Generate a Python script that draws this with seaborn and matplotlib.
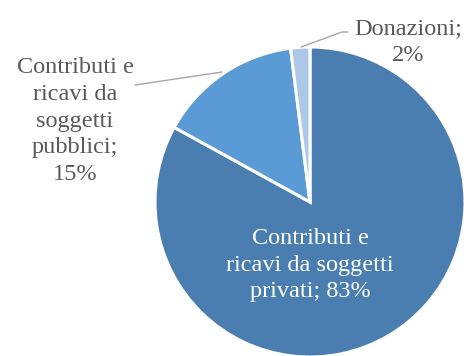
import matplotlib
matplotlib.use("Agg")
import matplotlib.pyplot as plt
import seaborn as sns

categories = ["Contributi e\nricavi da soggetti\nprivati", "Contributi e\nricavi da\nsoggetti\npubblici", "Donazioni"]
values = [83, 15, 2]
colors = ["#4A7EB0", "#5B9BD5", "#ADC8E6"]

sns.set_style("white")
plt.rcParams['font.family'] = ['Liberation Serif', 'DejaVu Serif']

fig = plt.figure(figsize=(4.71, 3.56), dpi=100)
ax = fig.add_axes([0, 0, 1, 1])

cx, cy, r = 310, 154, 155
wedges, _ = ax.pie(values, colors=colors, startangle=90, counterclock=False,
                   center=(cx, cy), radius=r,
                   wedgeprops=dict(edgecolor='white', linewidth=2.2))
ax.set_xlim(0, 471)
ax.set_ylim(0, 356)
ax.set_aspect('equal')
ax.axis('off')

labels = [f"{c}; {v}%" if i == 0 else f"{c};\n{v}%" for i, (c, v) in enumerate(zip(categories, values))]
ax.text(310, 91, labels[0], color='white', fontsize=17.5,
        ha='center', va='center', linespacing=1.35)
ax.text(75, 235, labels[1], color='#595959', fontsize=17.5,
        ha='center', va='center', linespacing=1.35)
ax.text(408, 314, labels[2], color='#595959', fontsize=17.5,
        ha='center', va='center', linespacing=1.35)

ax.plot([301, 342, 348], [309, 324, 324], color='#A6A6A6', lw=1)
ax.plot([222, 135], [284, 271], color='#A6A6A6', lw=1)

fig.savefig("out.png", dpi=100)
